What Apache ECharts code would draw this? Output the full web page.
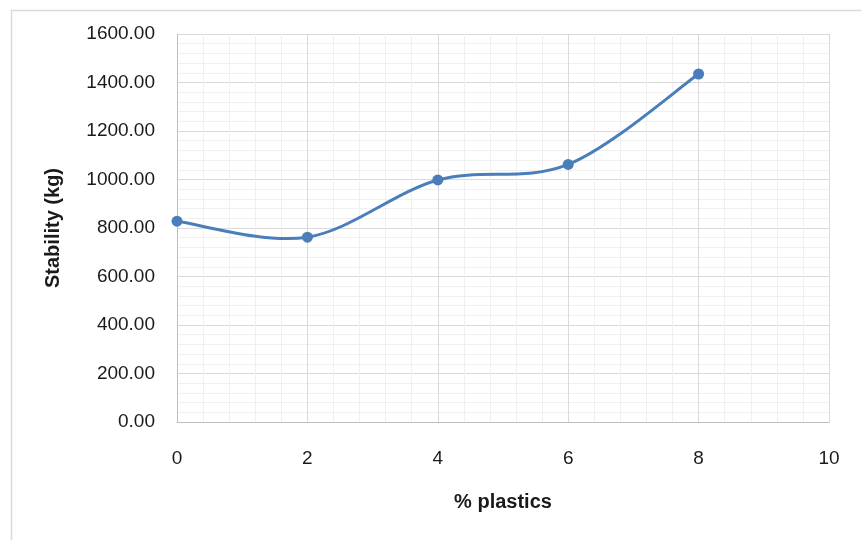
<!DOCTYPE html>
<html>
<head>
<meta charset="utf-8">
<script src="https://cdn.jsdelivr.net/npm/echarts@6/dist/echarts.min.js"></script>
<style>
  html, body { margin: 0; padding: 0; background: #fff; }
  #chart { width: 861px; height: 540px; }
</style>
</head>
<body>
<div id="chart"></div>
<script>
var plastics = [0, 2, 4, 6, 8];
var stability = [828, 762, 998, 1062, 1435];

var points = [];
for (var i = 0; i < plastics.length; i++) {
    points.push([plastics[i], stability[i]]);
}

var lineColor = '#4a7ebb';
var fontName = '"Liberation Sans", Arial, sans-serif';

// spreadsheet-style smoothed line: cubic pieces with tangents from the neighbours
function smoothPath(params, api) {
    var pts = points.map(function (p) { return api.coord(p); });
    var n = pts.length;
    var d = 'M' + pts[0][0] + ',' + pts[0][1];
    for (var k = 0; k < n - 1; k++) {
        var p0 = pts[k > 0 ? k - 1 : 0];
        var p1 = pts[k];
        var p2 = pts[k + 1];
        var p3 = pts[k + 2 < n ? k + 2 : n - 1];
        var c1x = p1[0] + (p2[0] - p0[0]) / 6;
        var c1y = p1[1] + (p2[1] - p0[1]) / 6;
        var c2x = p2[0] - (p3[0] - p1[0]) / 6;
        var c2y = p2[1] - (p3[1] - p1[1]) / 6;
        d += ' C' + c1x + ',' + c1y + ' ' + c2x + ',' + c2y + ' ' + p2[0] + ',' + p2[1];
    }
    return {
        type: 'path',
        shape: { pathData: d },
        style: { fill: 'none', stroke: lineColor, lineWidth: 3 }
    };
}

var myChart = echarts.init(document.getElementById('chart'));

var option = {
    animation: false,
    backgroundColor: '#fff',
    graphic: [{
        type: 'rect',
        shape: { x: 11.5, y: 10.5, width: 900, height: 600 },
        style: { fill: 'none', stroke: '#d9d9d9', lineWidth: 1.5 },
        silent: true
    }],
    grid: { left: 177, right: 32, top: 34, bottom: 118 },
    xAxis: {
        type: 'value',
        min: 0,
        max: 10,
        interval: 2,
        name: '% plastics',
        nameLocation: 'middle',
        nameGap: 70,
        nameTextStyle: { fontFamily: fontName, fontSize: 20, fontWeight: 'bold', color: '#1a1a1a' },
        axisLine: { show: true, onZero: false, lineStyle: { color: '#bfbfbf', width: 1 } },
        axisTick: { show: false },
        axisLabel: { margin: 27, fontFamily: fontName, fontSize: 19, color: '#1a1a1a' },
        splitLine: { show: true, lineStyle: { color: '#d9d9d9', width: 1 } },
        minorTick: { show: false, splitNumber: 5 },
        minorSplitLine: { show: true, lineStyle: { color: '#f0f0f0', width: 1 } }
    },
    yAxis: {
        type: 'value',
        min: 0,
        max: 1600,
        interval: 200,
        name: 'Stability (kg)',
        nameLocation: 'middle',
        nameGap: 114,
        nameTextStyle: { fontFamily: fontName, fontSize: 20, fontWeight: 'bold', color: '#1a1a1a' },
        axisLine: { show: true, lineStyle: { color: '#bfbfbf', width: 1 } },
        axisTick: { show: false },
        axisLabel: {
            margin: 22,
            fontFamily: fontName,
            fontSize: 19,
            color: '#1a1a1a',
            formatter: function (v) { return v.toFixed(2); }
        },
        splitLine: { show: true, lineStyle: { color: '#d9d9d9', width: 1 } },
        minorTick: { show: false, splitNumber: 5 },
        minorSplitLine: { show: true, lineStyle: { color: '#f0f0f0', width: 1 } }
    },
    series: [
        {
            type: 'custom',
            data: [points[0]],
            renderItem: smoothPath,
            clip: false,
            silent: true
        },
        {
            type: 'scatter',
            data: points,
            symbol: 'circle',
            symbolSize: 11,
            itemStyle: { color: lineColor, opacity: 1 }
        }
    ]
};

myChart.setOption(option);
</script>
</body>
</html>
